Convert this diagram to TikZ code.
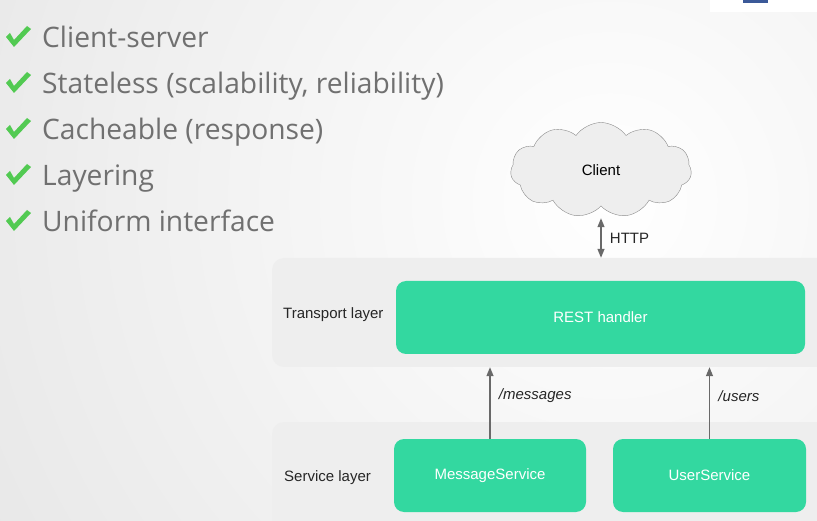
\documentclass[tikz,border=0pt]{standalone}
\usepackage{fontspec}
\setmainfont{Liberation Sans}
\newfontfamily\listfont{Open Sans}
\usetikzlibrary{shapes.symbols,arrows.meta}
\definecolor{mint}{RGB}{51,216,160}
\definecolor{band}{RGB}{238,238,238}
\definecolor{listgray}{RGB}{112,112,112}
\definecolor{tickgreen}{RGB}{82,202,82}
\definecolor{arrowgray}{RGB}{105,105,105}
\definecolor{logoblue}{RGB}{59,89,152}
\tikzstyle{layer}   = [rectangle, rounded corners=12pt, fill=band, inner sep=0pt]
\tikzstyle{comp}    = [rectangle, rounded corners=10pt, fill=mint, text=white, minimum height=73pt, font=\fontsize{15}{17}\selectfont]
\tikzstyle{caption} = [anchor=west, inner sep=0pt, text=black!85, font=\fontsize{15}{17}\selectfont]
\tikzstyle{edgelabel} = [right=5pt, text=black!85, font=\fontsize{15}{17}\selectfont]
\tikzstyle{pathlabel} = [right=5pt, text=black!85, font=\itshape\fontsize{15}{17}\selectfont]
\tikzstyle{item}    = [anchor=base west, inner sep=0pt, text=listgray, font=\listfont\fontsize{28.2}{34}\selectfont]
\tikzstyle{tick}    = [fill=tickgreen]
\tikzstyle{arrow}   = [line width=1.3pt, arrowgray, -{Triangle[length=9pt,width=7pt]}]
\tikzstyle{dblarrow}= [line width=1.3pt, arrowgray, {Triangle[length=9pt,width=7pt]}-{Triangle[length=9pt,width=7pt]}]

\begin{document}
\begin{tikzpicture}[x=1pt,y=1pt]
        \clip (0,0) rectangle (817,520);
        \shade[inner color=white, outer color=black!10] (610,320) circle (780);
        \fill[white] (710,508) rectangle (817,520);
        \fill[logoblue] (743,517) rectangle (768,520);

        % checklist
        \foreach \t [count=\i] in {Client-server, {Stateless (scalability, reliability)}, Cacheable (response), Layering, Uniform interface} {
            \fill[tick] (6,518-46*\i+11) -- (10,518-46*\i+15) -- (14,518-46*\i+8)
                -- (27,518-46*\i+22) -- (31,518-46*\i+19) -- (14,518-46*\i+1) -- cycle;
            \node[item] (item\i) at (42,518-46*\i) {\t};
        }

        % layers
        \node[layer, minimum width=568pt, minimum height=109pt] (transport) at (556,207.5) {};
        \node[layer, minimum width=568pt, minimum height=120pt] (service) at (556,38) {};
        \node[caption] (tlabel) at (283,205) {Transport layer};
        \node[caption] (slabel) at (284,42) {Service layer};

        % components
        \node[comp, minimum width=409pt] (rest) at (600.5,202.5) {REST handler};
        \node[comp, minimum width=192pt] (msg) at (490,44.5) {MessageService};
        \node[comp, minimum width=193pt] (user) at (709.5,44.5) {UserService};

        \node[cloud, cloud puffs=11, cloud puff arc=110, aspect=2, draw=black!45, fill=band,
              minimum width=181pt, minimum height=95pt, font=\fontsize{15}{17}\selectfont] (client) at (601,350) {Client};

        \draw[dblarrow] ([yshift=-12pt]client.south) -- (client.south |- transport.north)
            node[midway, edgelabel] {HTTP};
        \draw[arrow] (msg.north) -- (msg.north |- transport.south)
            node[pos=0.6, pathlabel] {/messages};
        \draw[arrow] (user.north) -- (user.north |- transport.south)
            node[pos=0.6, pathlabel] {/users};
    \end{tikzpicture}
\end{document}
